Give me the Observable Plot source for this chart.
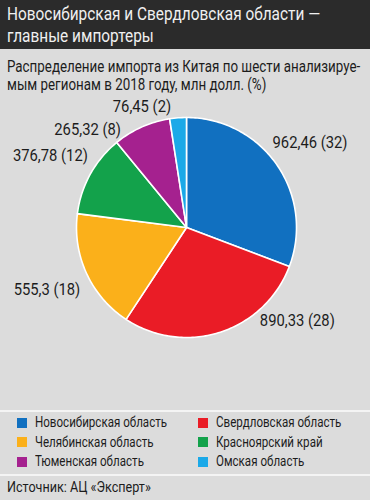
<!DOCTYPE html>
<html><head><meta charset="utf-8">
<script src="https://cdn.jsdelivr.net/npm/d3@7"></script>
<script src="https://cdn.jsdelivr.net/npm/@observablehq/plot@0.6"></script>
<style>
html,body{margin:0;padding:0;background:#dcdcdc;}
#wrap{width:370px;height:500px;background:#dcdcdc;font-family:Roboto,"Liberation Sans",sans-serif;color:#1c1c1c;position:relative;overflow:hidden}
.ln{display:inline-block;white-space:nowrap;transform-origin:0 50%}
.row{height:21.5px;overflow:visible}
#head{background:#2b2b2b;color:#f0f0f0;height:49px;box-sizing:border-box;padding:3px 0 0 7px;font-size:19px;line-height:21.5px}
#sub{padding:8.5px 0 0 7px;font-size:16.5px;line-height:18.5px;height:46px;box-sizing:border-box}
#sub .row{height:18.5px}
#chart{height:315px}
#legend{border-top:2px solid #f4f4f4;border-bottom:2px solid #f4f4f4;height:66px;box-sizing:border-box;padding:1px 0 0 17px;display:grid;grid-template-columns:181px 170px;grid-auto-rows:19.5px;font-size:15px;line-height:19.5px}
#legend .it{display:flex;align-items:center;white-space:nowrap}
#legend .sw{width:10px;height:10px;margin-right:8px;flex:none}
#src{padding:1px 0 0 7px;font-size:15.5px;line-height:20px}
</style></head>
<body><div id="wrap">
<div id="head"><div class="row"><span class="ln" id="t1">Новосибирская и Свердловская области —</span></div><div class="row"><span class="ln" id="t2">главные импортеры</span></div></div>
<div id="sub"><div class="row"><span class="ln" id="s1">Распределение импорта из Китая по шести анализируе-</span></div><div class="row"><span class="ln" id="s2">мым регионам в 2018 году, млн долл. (%)</span></div></div>
<div id="chart"></div>
<div id="legend"></div>
<div id="src"><span class="ln" id="so">Источник: АЦ «Эксперт»</span></div>
</div>
<script>
const regions = ["Новосибирская область","Свердловская область","Челябинская область","Красноярский край","Тюменская область","Омская область"];
const values = [962.46, 890.33, 555.3, 376.78, 265.32, 76.45];
const shares = [32, 28, 18, 12, 8, 2];
const colors = ["#1170c0","#ea1c26","#fbb01a","#13a24b","#a5218f","#1ba9e8"];

const data = regions.map((r,i)=>({region:r, value:values[i], share:shares[i]}));
const arcs = d3.pie().value(d=>d.value).sort(null)(data);

// polygon vertices for each slice (unit circle, angle clockwise from top)
const poly = [];
arcs.forEach(a=>{
  poly.push({region:a.data.region, x:0, y:0});
  const n = Math.max(4, Math.ceil((a.endAngle-a.startAngle)/0.02));
  for(let k=0;k<=n;k++){
    const t = a.startAngle + (a.endAngle-a.startAngle)*k/n;
    poly.push({region:a.data.region, x:Math.sin(t), y:Math.cos(t)});
  }
});

// label layout: vertical position from slice midpoint (clamped), relaxed per side,
// then placed just outside the circle at that height
const fmt = v => String(v).replace(".", ",");
const labs = arcs.map(a=>{
  const m = (a.startAngle+a.endAngle)/2;
  return {text:`${fmt(a.data.value)} (${a.data.share})`, m, y:Math.max(-0.85, Math.min(1.1, Math.cos(m)*1.35)), side:Math.sin(m)>=0?"start":"end"};
});
["start","end"].forEach(s=>{
  const g = labs.filter(l=>l.side===s).sort((a,b)=> s==="start" ? a.m-b.m : b.m-a.m);
  for(let i=1;i<g.length;i++) if(g[i-1].y-g[i].y<0.21) g[i].y=g[i-1].y-0.21;
});
labs.forEach(l=>{ l.x = (l.side==="start"?1:-1)*(Math.sqrt(Math.max(0,1-l.y*l.y))+0.14); });

const plot = Plot.plot({
  width:370, height:315,
  marginTop:0, marginBottom:0, marginLeft:0, marginRight:0,
  x:{domain:[-1,1], range:[76,296], axis:null},
  y:{domain:[-1,1], range:[242,22], axis:null},
  color:{domain:regions, range:colors},
  style:{background:"transparent", overflow:"visible", fontFamily:"Roboto, sans-serif"},
  marks:[
    Plot.line(poly,{x:"x", y:"y", z:"region", fill:"region", stroke:"white", strokeWidth:1.6, curve:"linear-closed", strokeLinejoin:"round"}),
    Plot.text(labs.filter(l=>l.side==="start"),{x:"x", y:"y", text:"text", textAnchor:"start", fontSize:16.5, fill:"#1c1c1c"}),
    Plot.text(labs.filter(l=>l.side==="end"),{x:"x", y:"y", text:"text", textAnchor:"end", fontSize:16.5, fill:"#1c1c1c"})
  ]
});
document.getElementById("chart").appendChild(plot);

const lg = document.getElementById("legend");
regions.forEach((r,i)=>{
  const d = document.createElement("div"); d.className="it";
  d.innerHTML = `<span class="sw" style="background:${colors[i]}"></span><span class="ln">${r}</span>`;
  lg.appendChild(d);
});

// condense the text horizontally to mimic the narrow typeface of the original
function squeeze(els, refEl, target){
  const k = target / refEl.offsetWidth;
  els.forEach(e=>{ e.style.transform = `scaleX(${k})`; e.style.marginRight = `${-(1-k)*e.offsetWidth}px`; });
}
const $ = id => document.getElementById(id);
squeeze([$("t1"),$("t2")], $("t1"), 313);
squeeze([$("s1"),$("s2")], $("s1"), 353);
const legLines = [...lg.querySelectorAll(".ln")];
squeeze(legLines, legLines[0], 132);
squeeze([$("so")], $("so"), 144);

const texts = plot.querySelectorAll("text");
if (texts.length){
  const kk = 75 / texts[0].getBBox().width;
  texts.forEach(t=>{
    const tr = t.getAttribute("transform");
    if (tr) t.setAttribute("transform", tr + ` scale(${kk},1)`);
    else {
      const x = +t.getAttribute("x")||0, y = +t.getAttribute("y")||0;
      t.setAttribute("x",0); t.setAttribute("y",0);
      t.setAttribute("transform", `translate(${x},${y}) scale(${kk},1)`);
    }
  });
}
</script>
</body></html>
